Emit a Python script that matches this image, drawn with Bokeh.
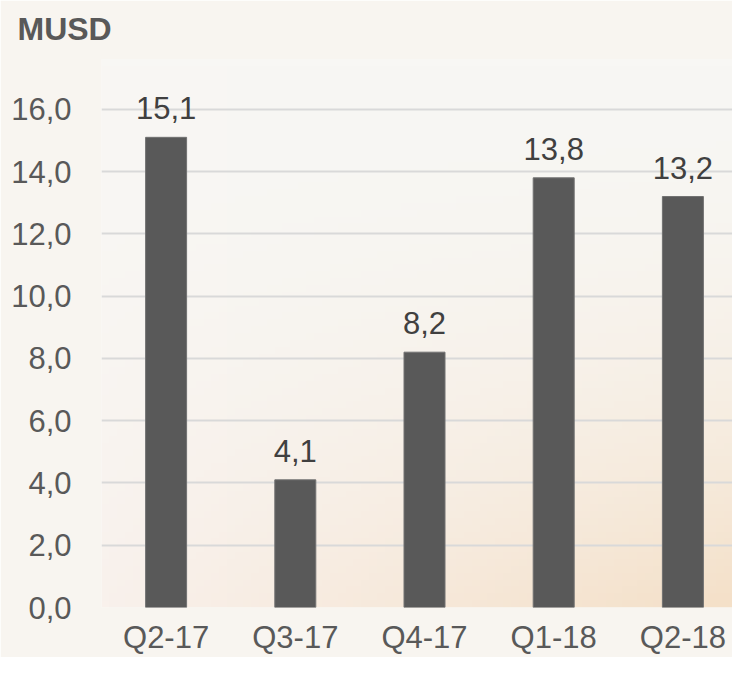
import numpy as np
from bokeh.plotting import figure
from bokeh.models import (Range1d, FixedTicker, ColumnDataSource, LabelSet, Title)
from bokeh.core.properties import value
from bokeh.embed import file_html
from bokeh.resources import INLINE

# ---- data ----
categories = ["Q2-17", "Q3-17", "Q4-17", "Q1-18", "Q2-18"]
values = [15.1, 4.1, 8.2, 13.8, 13.2]
value_labels = ["15,1", "4,1", "8,2", "13,8", "13,2"]
y_ticks = [0, 2, 4, 6, 8, 10, 12, 14, 16]
y_tick_labels = ["0,0", "2,0", "4,0", "6,0", "8,0", "10,0", "12,0", "14,0", "16,0"]
unit_label = "MUSD"

FONT = "Liberation Sans"
GREY = "#595959"

W, H = 732, 657
LEFT, TOP, BOTTOM = 101, 56, 49
STEP = 129.2  # px per category
xs = list(range(len(categories)))
x0 = -0.5
x1 = x0 + (W - LEFT) / STEP
y0, y1 = 0, 17.6

p = figure(width=W, height=H, output_backend="svg", toolbar_location=None,
           x_range=Range1d(x0, x1), y_range=Range1d(y0, y1),
           min_border_left=LEFT, min_border_right=0, min_border_top=TOP,
           min_border_bottom=BOTTOM)
p.outline_line_color = None
p.border_fill_color = "#f8f5f0"
p.background_fill_color = "#f8f6f2"

# soft background gradient (styling only)
n = 80
u = np.linspace(0, 1, n)[None, :]
v = np.linspace(0, 1, n)[:, None]
top = np.array([248, 247, 244], dtype=float)
bl = np.array([249, 241, 236], dtype=float)
br = np.array([244, 224, 200], dtype=float)
bottom = bl[None, None, :] * (1 - u[..., None]) + br[None, None, :] * u[..., None]
w = ((1 - v) ** 2.0)[..., None] * np.ones((n, n, 1))
col = top[None, None, :] * (1 - w) + bottom * w
img = np.zeros((n, n), dtype=np.uint32)
view = img.view(dtype=np.uint8).reshape((n, n, 4))
view[..., 0] = col[..., 0].astype(np.uint8)
view[..., 1] = col[..., 1].astype(np.uint8)
view[..., 2] = col[..., 2].astype(np.uint8)
view[..., 3] = 255
p.image_rgba(image=[img], x=x0, y=y0, dw=x1 - x0, dh=y1 - y0, level="image")

src = ColumnDataSource(dict(x=xs, top=values, lab=value_labels))
p.vbar(x="x", top="top", width=41 / STEP, bottom=0, source=src,
       fill_color=GREY, line_color="#727272", line_width=1)

labels = LabelSet(x="x", y="top", text="lab", source=src, text_align="center",
                  text_baseline="alphabetic", y_offset=18, text_font=value(FONT),
                  text_font_size="31px", text_color="#404040")
p.add_layout(labels)

title = Title(text=unit_label, align="left", offset=17 - LEFT, standoff=21,
              vertical_align="top", text_line_height=0.75,
              text_font=FONT, text_font_size="32px", text_font_style="bold",
              text_color=GREY)
p.add_layout(title, "above")

# axes
p.yaxis.ticker = FixedTicker(ticks=y_ticks)
p.yaxis.major_label_overrides = {t: l for t, l in zip(y_ticks, y_tick_labels)}
p.xaxis.ticker = FixedTicker(ticks=xs)
p.xaxis.major_label_overrides = {i: c for i, c in zip(xs, categories)}
for ax in (p.xaxis[0], p.yaxis[0]):
    ax.axis_line_color = None
    ax.major_tick_line_color = None
    ax.minor_tick_line_color = None
    ax.major_label_text_font = FONT
    ax.major_label_text_font_size = "31px"
    ax.major_label_text_color = GREY
p.yaxis.major_label_standoff = 24
p.xaxis.major_label_standoff = 6

p.xgrid.grid_line_color = None
p.ygrid.ticker = FixedTicker(ticks=y_ticks)
p.ygrid.grid_line_color = "#d9d9d9"
p.ygrid.grid_line_width = 2
p.ygrid.level = "underlay"

open("out.html", "w").write(file_html(p, INLINE))
